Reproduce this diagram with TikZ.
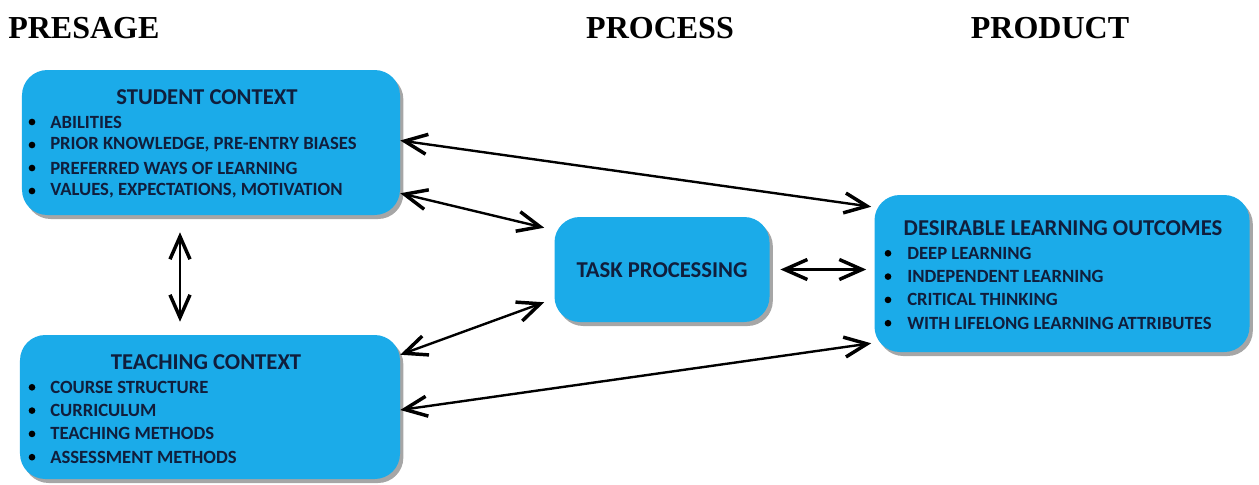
\documentclass[tikz,border=0pt]{standalone}
\usepackage{fontspec}
\setmainfont{Liberation Serif}
\newfontfamily\calfont{Carlito}
\usepackage{tikz}
\usetikzlibrary{calc, positioning, shapes, arrows.meta, shadows}

\definecolor{boxblue}{RGB}{27,171,233}
\definecolor{navytext}{RGB}{16,30,60}

\tikzset{
  box/.style={draw=none, fill=boxblue, rounded corners=19bp, inner sep=0pt,
    drop shadow={shadow xshift=2.5bp, shadow yshift=-3bp, opacity=0.7}},
  boxtitle/.style={text=navytext, font=\calfont\bfseries\fontsize{17bp}{20bp}\selectfont},
  boxitem/.style={text=navytext, anchor=west, inner sep=0pt, font=\calfont\bfseries\fontsize{14bp}{16bp}\selectfont},
  bulletdot/.style={circle, fill=black, inner sep=0pt, minimum size=5bp},
  heading/.style={font=\bfseries\fontsize{24bp}{28bp}\selectfont},
  link/.style={line width=1.8bp, {Straight Barb[length=17bp,width=15bp,line width=2.6bp]}-{Straight Barb[length=17bp,width=15bp,line width=2.6bp]}}
}

\begin{document}
\begin{tikzpicture}[x=0.75bp, y=-0.75bp]
\useasboundingbox (0,0) rectangle (1259,484);

% headings
\node[heading, anchor=west, inner sep=0pt] (presage) at (8,28) {PRESAGE};
\node[heading] (process) at (660,28) {PROCESS};
\node[heading] (product) at (1050,28) {PRODUCT};

% boxes
\node[box, minimum width=283.5bp, minimum height=108.75bp] (stu) at (211,142.5) {};
\node[box, minimum width=285bp, minimum height=108bp] (tea) at (210,407) {};
\node[box, minimum width=161.25bp, minimum height=78.75bp] (task) at (662,269.5) {};
\node[box, minimum width=281.25bp, minimum height=117.75bp] (out) at (1062,273.5) {};

% titles
\node[boxtitle] (stutitle) at (207,97) {STUDENT CONTEXT};
\node[boxtitle] (teatitle) at (206,362) {TEACHING CONTEXT};
\node[boxtitle] (tasktitle) at (662,270) {TASK PROCESSING};
\node[boxtitle] (outtitle) at (1063,228) {DESIRABLE LEARNING OUTCOMES};

% bullet lists
\foreach \t [count=\i] in {ABILITIES, {PRIOR KNOWLEDGE, PRE-ENTRY BIASES}, PREFERRED WAYS OF LEARNING, {VALUES, EXPECTATIONS, MOTIVATION}} {
  \node[bulletdot] (stub\i) at (32,99+23*\i) {};
  \node[boxitem] (stu\i) at (50,99+23*\i) {\t};
}
\foreach \t [count=\i] in {COURSE STRUCTURE, CURRICULUM, TEACHING METHODS, ASSESSMENT METHODS} {
  \node[bulletdot] (teab\i) at (32,364+23.3*\i) {};
  \node[boxitem] (tea\i) at (50,364+23.3*\i) {\t};
}
\foreach \t [count=\i] in {DEEP LEARNING, INDEPENDENT LEARNING, CRITICAL THINKING, WITH LIFELONG LEARNING ATTRIBUTES} {
  \node[bulletdot] (outb\i) at (888,230+23.3*\i) {};
  \node[boxitem] (out\i) at (907,230+23.3*\i) {\t};
}

% links
\draw[link] ($(stu.east)+(0,-2)$) -- ($(out.north west)+(-3,12)$);
\draw[link] ($(stu.south east)+(0,-22)$) -- ($(task.north west)+(-10,11)$);
\draw[link] ($(task.south west)+(-10,-20)$) -- ($(tea.north east)+(0,20)$);
\draw[link] ($(tea.east)+(0,3)$) -- ($(out.south west)+(-3,-9)$);
\draw[link, shorten <=8bp, shorten >=6bp] (task.east) -- (task.east -| out.west);
\draw[link] ($(stu.south)+(-31,17)$) -- ($(tea.north)+(-30,-13)$);
\end{tikzpicture}
\end{document}
